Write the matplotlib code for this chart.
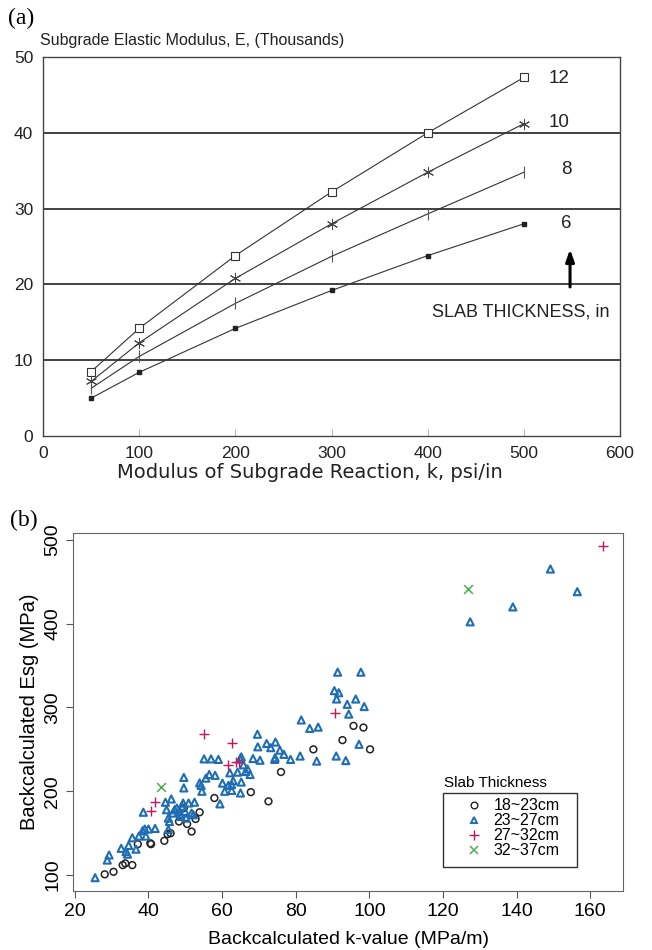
import numpy as np
import matplotlib
matplotlib.use("Agg")
from matplotlib import pyplot as plt
from matplotlib.lines import Line2D
from matplotlib.patches import Rectangle

plt.rcParams['font.family'] = ['Liberation Sans', 'DejaVu Sans']
serif = "Liberation Serif"

# ---- panel (a) data: E (thousands) vs k (psi/in) for slab thickness
k_psi = [50, 100, 200, 300, 400, 500]
thickness_in = ["12", "10", "8", "6"]
E_12 = [8.5, 14.2, 23.8, 32.2, 40.0, 47.3]
E_10 = [7.2, 12.3, 20.8, 28.0, 34.8, 41.2]
E_8 = [6.3, 10.5, 17.5, 23.7, 29.3, 34.8]
E_6 = [5.0, 8.4, 14.2, 19.2, 23.8, 28.0]
label_pos = [(537, 47.2), (537, 41.4), (544, 35.1), (544, 28.1)]

# ---- panel (b) data: backcalculated k (MPa/m) and Esg (MPa)
k_18_23 = [28.1, 30.5, 33.0, 33.7, 35.6, 37.1, 40.5, 40.7, 44.3, 45.2, 46.0, 48.3, 50.5,
           51.7, 52.8, 53.9, 49.6, 57.9, 67.8, 72.6, 76.0, 84.8, 92.7, 95.7, 98.4, 100.2]
E_18_23 = [101, 104, 112, 114, 112, 137, 138, 137, 141, 149, 150, 164, 161,
           152, 167, 175, 180, 192, 199, 188, 223, 250, 261, 278, 276, 250]

k_23_27 = [25.5, 28.8, 29.3, 32.6, 33.9, 34.3, 34.6, 35.6, 36.6, 37.4, 38.4, 38.6, 39.0,
           39.3, 40.0, 41.8, 44.6, 44.9, 45.4, 45.4, 45.7, 46.2, 46.6, 47.1, 47.7, 48.3,
           48.6, 48.8, 49.1, 49.4, 49.6, 49.6, 49.9, 50.2, 50.9, 51.7, 52.2, 52.5, 53.9,
           54.3, 54.5, 55.1, 55.6, 56.5, 57.0, 58.1, 59.0, 59.4, 60.1, 60.7, 61.7, 62.1,
           62.6, 62.6, 63.0, 64.2, 64.9, 65.0, 65.2, 65.2, 65.8, 66.4, 66.9, 67.6, 68.4,
           69.7, 69.6, 70.3, 72.1, 73.2, 74.5, 74.3, 74.4, 75.7, 76.8, 78.6, 81.2, 81.5,
           83.8, 85.7, 86.1, 90.5, 91.0, 91.1, 91.4, 91.7, 93.6, 94.0, 94.4, 96.3, 97.2,
           97.7, 98.6, 127.4, 139.0, 149.2, 156.5]
E_23_27 = [97, 118, 124, 132, 128, 125, 135.5, 144.6, 131, 146.6, 153, 175, 155,
           146.6, 155, 155.7, 186.9, 178, 168, 154.5, 164, 190.8, 174, 178, 180, 176,
           173, 170, 182, 186, 216.5, 204, 176, 168, 186, 174, 172, 187, 210,
           207, 200, 238.6, 215.7, 220, 238.6, 219, 238, 185, 209.7, 200, 207, 222,
           208, 201, 212.5, 222.8, 238.6, 198, 211, 241, 231.5, 223.6, 226.7, 220, 239,
           253, 268, 237, 257, 252, 258.7, 238, 240, 249, 244, 238, 242, 285,
           275, 236, 276.5, 320, 242, 310, 342, 317.5, 236.6, 303.7, 292, 310, 256,
           342, 301, 402, 419.8, 465, 438]

k_27_32 = [40.8, 41.7, 55.2, 62.7, 61.6, 63.9, 64.7, 90.7, 163.5]
E_27_32 = [177, 187, 268.8, 258, 231.3, 235, 235, 293.7, 492]

k_32_37 = [43.5, 126.9]
E_32_37 = [205, 440.7]

legend_labels = ["18~23cm", "23~27cm", "27~32cm", "32~37cm"]

fig = plt.figure(figsize=(6.52, 9.5), dpi=100)

# ================= panel (a)
ax1 = fig.add_axes([0.066, 0.541, 0.885, 0.399])
ax1.set_xlim(0, 600)
ax1.set_ylim(0, 50)
for y in [10, 20, 30, 40]:
    ax1.axhline(y, color="#333333", lw=1.3, zorder=1)
ax1.plot(k_psi, E_12, color="#333333", lw=0.8, marker="s", ms=6, mfc="white", mec="#333333", mew=0.8)
ax1.plot(k_psi, E_10, color="#333333", lw=0.8, marker=(6, 2, 0), ms=8, mec="#444444", mew=0.7)
ax1.plot(k_psi, E_8, color="#333333", lw=0.8, marker="|", ms=9, mec="#555555", mew=0.8)
ax1.plot(k_psi, E_6, color="#333333", lw=0.8, marker="s", ms=2.2, mfc="#222222", mec="#222222")
for lab, (lx, ly) in zip(thickness_in, label_pos):
    ax1.text(lx, ly, lab, fontsize=13.5, ha="center", va="center", color="#222222")
ax1.annotate("", xy=(548, 25.0), xytext=(548, 19.3),
             arrowprops=dict(arrowstyle="-|>,head_width=0.25,head_length=0.7", color="black", lw=2.2))
ax1.text(404, 16.4, "SLAB THICKNESS, in", fontsize=13, ha="left", va="center", color="#222222")
ax1.set_xticks(range(0, 601, 100))
ax1.set_yticks(range(0, 51, 10))
ax1.tick_params(axis="x", direction="in", length=5, color="#bbbbbb", labelsize=12.5, pad=7)
ax1.tick_params(axis="y", length=0, labelsize=12.5, pad=7)
for lbl in ax1.get_xticklabels() + ax1.get_yticklabels():
    lbl.set_color("#222222")
for s in ax1.spines.values():
    s.set_color("#444444")
    s.set_linewidth(1.0)
fig.text(0.475, 0.503, "Modulus of Subgrade Reaction, k, psi/in", fontsize=14, family="DejaVu Sans",
         color="#222222", ha="center", va="center")
fig.text(0.062, 0.957, "Subgrade Elastic Modulus, E, (Thousands)", fontsize=11.5,
         color="#222222", ha="left", va="center")
fig.text(0.012, 0.981, "(a)", fontsize=17, family=serif, ha="left", va="center")

# ================= panel (b)
ax2 = fig.add_axes([0.112, 0.062, 0.844, 0.377])
ax2.scatter(k_18_23, E_18_23, s=24, marker="o", facecolors="none", edgecolors="#222222", linewidths=1.1)
ax2.scatter(k_23_27, E_23_27, s=26, marker="^", facecolors="none", edgecolors="#1f6db3", linewidths=1.5)
ax2.scatter(k_27_32, E_27_32, s=45, marker="+", color="#c2185b", linewidths=1.0)
ax2.scatter(k_32_37, E_32_37, s=40, marker="x", color="#4caf50", linewidths=1.1)
ax2.set_xlim(19.5, 169)
ax2.set_ylim(81, 508)
ax2.set_xticks(range(20, 161, 20))
ax2.set_yticks(range(100, 501, 100))
ax2.tick_params(direction="out", length=5, color="#555555", labelsize=14)
for lbl in ax2.get_yticklabels():
    lbl.set_rotation(90)
    lbl.set_va("center")
for s in ax2.spines.values():
    s.set_color("#666666")
ax2.set_xlabel("Backcalculated k-value (MPa/m)", fontsize=14, labelpad=8)
ax2.set_ylabel("Backcalculated Esg (MPa)", fontsize=14.5, labelpad=4)

handles = [
    Line2D([], [], ls="none", marker="o", mfc="none", mec="#222222", ms=4.8, mew=1.0),
    Line2D([], [], ls="none", marker="^", mfc="none", mec="#1f6db3", ms=5, mew=1.4),
    Line2D([], [], ls="none", marker="+", color="#c2185b", ms=7, mew=1.0),
    Line2D([], [], ls="none", marker="x", color="#4caf50", ms=6, mew=1.1),
]
leg = ax2.legend(handles, legend_labels, loc="upper left",
                 bbox_to_anchor=(126.3, 191.5), bbox_transform=ax2.transData,
                 fontsize=11.5, frameon=False, handletextpad=0.7, labelspacing=0.0,
                 borderpad=0, handlelength=1.0, borderaxespad=0)
ax2.add_patch(Rectangle((120.0, 109.5), 36.3, 88.4, fill=False, ec="#333333", lw=1.0))
ax2.text(120.3, 209.8, "Slab Thickness", fontsize=11, ha="left", va="center")
fig.text(0.015, 0.452, "(b)", fontsize=17, family=serif, ha="left", va="center")

fig.savefig("out.png", dpi=100)
